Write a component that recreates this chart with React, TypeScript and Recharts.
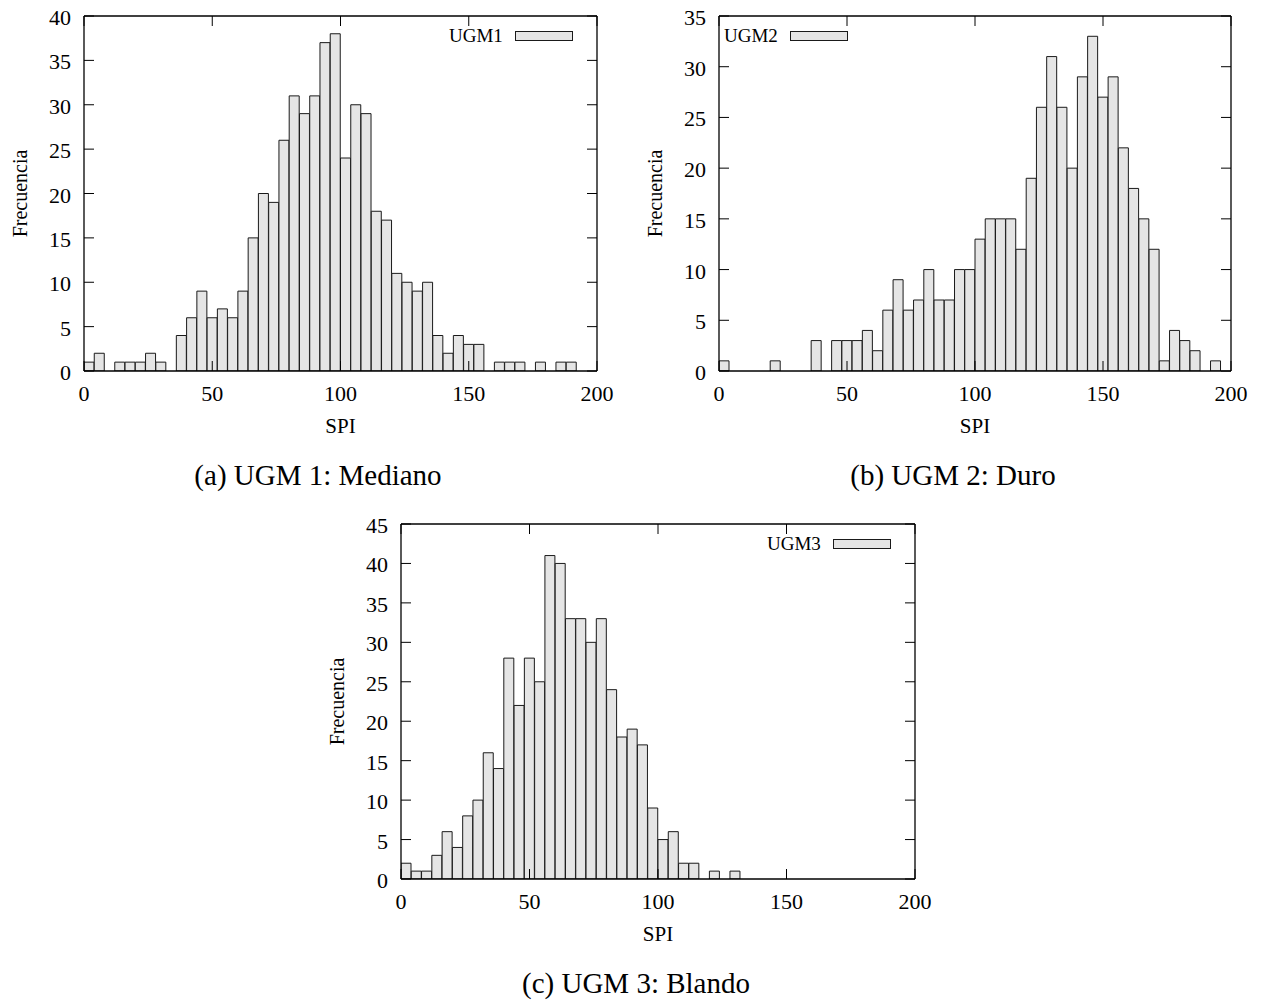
import React from 'react';
import { BarChart, Bar, XAxis, YAxis, Legend } from 'recharts';

// bin centres (width 4) on the SPI axis
const BINS = [
  2, 6, 10, 14, 18, 22, 26, 30, 34, 38,
  42, 46, 50, 54, 58, 62, 66, 70, 74, 78,
  82, 86, 90, 94, 98, 102, 106, 110, 114, 118,
  122, 126, 130, 134, 138, 142, 146, 150, 154, 158,
  162, 166, 170, 174, 178, 182, 186, 190, 194, 198,
];

const UGM1 = [
  1, 2, 0, 1, 1, 1, 2, 1, 0, 4,
  6, 9, 6, 7, 6, 9, 15, 20, 19, 26,
  31, 29, 31, 37, 38, 24, 30, 29, 18, 17,
  11, 10, 9, 10, 4, 2, 4, 3, 3, 0,
  1, 1, 1, 0, 1, 0, 1, 1, 0, 0,
];

const UGM2 = [
  1, 0, 0, 0, 0, 1, 0, 0, 0, 3,
  0, 3, 3, 3, 4, 2, 6, 9, 6, 7,
  10, 7, 7, 10, 10, 13, 15, 15, 15, 12,
  19, 26, 31, 26, 20, 29, 33, 27, 29, 22,
  18, 15, 12, 1, 4, 3, 2, 0, 1, 0,
];

const UGM3 = [
  2, 1, 1, 3, 6, 4, 8, 10, 16, 14,
  28, 22, 28, 25, 41, 40, 33, 33, 30, 33,
  24, 18, 19, 17, 9, 5, 6, 2, 2, 0,
  1, 0, 1, 0, 0, 0, 0, 0, 0, 0,
  0, 0, 0, 0, 0, 0, 0, 0, 0, 0,
];

const X_TICKS = [0, 50, 100, 150, 200];
const Y_TICKS_40 = [0, 5, 10, 15, 20, 25, 30, 35, 40];
const Y_TICKS_35 = [0, 5, 10, 15, 20, 25, 30, 35];
const Y_TICKS_45 = [0, 5, 10, 15, 20, 25, 30, 35, 40, 45];

const FONT = '"Liberation Serif", "Times New Roman", serif';
const FILL = '#e5e5e5';
const EDGE = '#1a1a1a';
const TICK_FS = 22;

const W = 620;
const H = 445;

const LeftTick = (p: any) => (
  <g>
    <line x1={p.x} y1={p.y} x2={p.x + 10} y2={p.y} stroke="#000" strokeWidth={1} />
    <text x={p.x - 13} y={p.y + 9} textAnchor="end" fontSize={TICK_FS} fontFamily={FONT} fill="#000">
      {p.payload.value}
    </text>
  </g>
);

const RightTick = (p: any) => (
  <line x1={p.x} y1={p.y} x2={p.x - 10} y2={p.y} stroke="#000" strokeWidth={1} />
);

const BottomTick = (p: any) => (
  <g>
    <line x1={p.x} y1={p.y} x2={p.x} y2={p.y - 10} stroke="#000" strokeWidth={1} />
    <text x={p.x} y={p.y + 30} textAnchor="middle" fontSize={TICK_FS} fontFamily={FONT} fill="#000">
      {p.payload.value}
    </text>
  </g>
);

const TopTick = (p: any) => (
  <line x1={p.x} y1={p.y} x2={p.x} y2={p.y + 10} stroke="#000" strokeWidth={1} />
);

const yLabel = (props: any) => {
  const vb = props.viewBox;
  const cx = 20;
  const cy = vb.y + vb.height / 2;
  return (
    <text x={cx} y={cy} transform={`rotate(-90 ${cx} ${cy})`} textAnchor="middle" dy="0.35em"
      fontSize={20} fontFamily={FONT} fill="#000">Frecuencia</text>
  );
};

const xLabel = (props: any) => {
  const vb = props.viewBox;
  const cx = vb.x + vb.width / 2;
  return (
    <text x={cx} y={vb.y + 62} textAnchor="middle" fontSize={21} fontFamily={FONT} fill="#000">SPI</text>
  );
};

const legendBox = (props: any) => {
  const item = props.payload && props.payload[0];
  return (
    <div style={{ display: 'flex', alignItems: 'center', fontFamily: FONT, fontSize: 19, color: '#000', lineHeight: '22px' }}>
      <span>{item ? item.value : ''}</span>
      <span style={{ display: 'inline-block', width: 56, height: 8, marginLeft: 12, background: FILL, border: `1px solid ${EDGE}` }} />
    </div>
  );
};

interface HistProps {
  counts: number[];
  name: string;
  yMax: number;
  yTicks: number[];
  legendLeft: number;
  marginRight: number;
}

const Histogram: React.FC<HistProps> = ({ counts, name, yMax, yTicks, legendLeft, marginRight }) => {
  const data = BINS.map((b, i) => ({ bin: b, count: counts[i] }));
  return (
    <BarChart width={W} height={H} data={data} barCategoryGap={0} barGap={0}
      margin={{ top: 15, right: marginRight, left: 0, bottom: 0 }}>
      <XAxis xAxisId="num" dataKey="bin" type="number" domain={[0, 200]} ticks={X_TICKS} allowDataOverflow
        interval={0} height={H - 16 - 355} tickSize={0} tickMargin={0} tick={BottomTick}
        axisLine={{ stroke: '#000', strokeWidth: 1.3 }} tickLine={false} label={xLabel} />
      <XAxis xAxisId="top" dataKey="bin" orientation="top" type="number" domain={[0, 200]} ticks={X_TICKS} allowDataOverflow
        interval={0} height={1} tickSize={0} tickMargin={0} tick={TopTick}
        axisLine={{ stroke: '#000', strokeWidth: 1.3 }} tickLine={false} />
      <YAxis yAxisId="l" type="number" domain={[0, yMax]} ticks={yTicks} allowDataOverflow
        interval={0} width={84} tickSize={0} tickMargin={0} tick={LeftTick}
        axisLine={{ stroke: '#000', strokeWidth: 1.3 }} tickLine={false} label={yLabel} />
      <YAxis yAxisId="r" orientation="right" type="number" domain={[0, yMax]} ticks={yTicks} allowDataOverflow
        interval={0} width={1} tickSize={0} tickMargin={0} tick={RightTick}
        axisLine={{ stroke: '#000', strokeWidth: 1.3 }} tickLine={false} />
      <Legend layout="horizontal" align="center" verticalAlign="middle" width={140}
        wrapperStyle={{ left: legendLeft, top: 25 }} content={legendBox} />
      <Bar xAxisId="num" yAxisId="l" dataKey="count" name={name} fill={FILL} stroke={EDGE}
        strokeWidth={1} isAnimationActive={false} />
    </BarChart>
  );
};

const captionStyle: React.CSSProperties = {
  position: 'absolute', width: 400, textAlign: 'center', fontFamily: FONT, fontSize: 29, color: '#000', lineHeight: '28px',
};

export default function App() {
  return (
    <div style={{ position: 'absolute', left: 0, top: 0, width: 1263, height: 1000, background: '#fff' }}>
      <div style={{ position: 'absolute', left: 0, top: 0 }}>
        <Histogram counts={UGM1} name="UGM1" yMax={40} yTicks={Y_TICKS_40} legendLeft={449} marginRight={22} />
      </div>
      <div style={{ position: 'absolute', left: 635, top: 0 }}>
        <Histogram counts={UGM2} name="UGM2" yMax={35} yTicks={Y_TICKS_35} legendLeft={89} marginRight={23} />
      </div>
      <div style={{ position: 'absolute', left: 317, top: 508 }}>
        <Histogram counts={UGM3} name="UGM3" yMax={45} yTicks={Y_TICKS_45} legendLeft={450} marginRight={21} />
      </div>
      <div style={{ ...captionStyle, left: 118, top: 461 }}>(a) UGM 1: Mediano</div>
      <div style={{ ...captionStyle, left: 753, top: 461 }}>(b) UGM 2: Duro</div>
      <div style={{ ...captionStyle, left: 436, top: 969 }}>(c) UGM 3: Blando</div>
    </div>
  );
}
